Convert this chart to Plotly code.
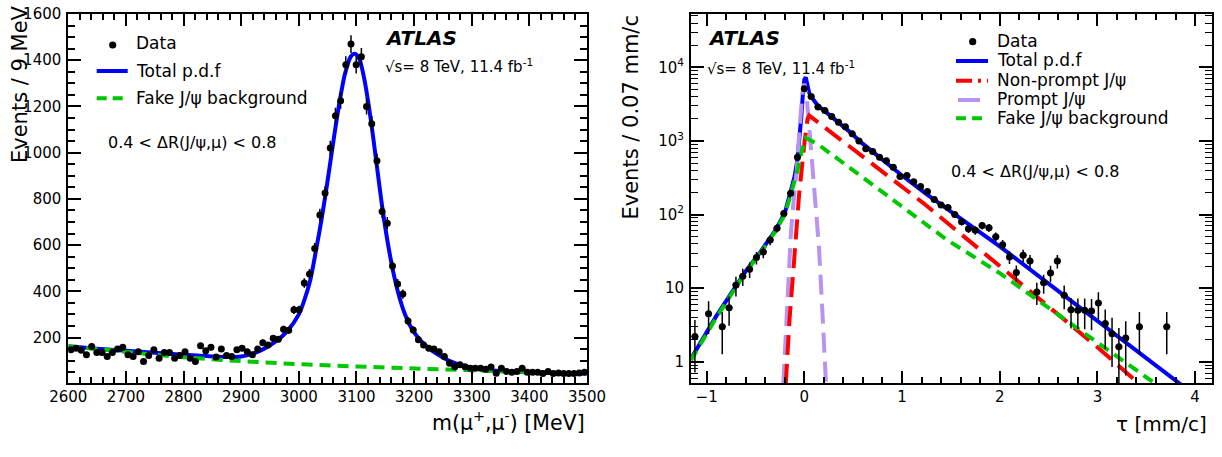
import numpy as np
import plotly.graph_objects as go

W, H = 1222, 457

# ---------------- Left panel: invariant mass ----------------
mass_bin_centers = np.arange(2604.5, 3500, 9.0)
mass_counts = [
    147, 154, 145, 125, 161, 135, 135, 118, 135, 150,
    158, 125, 118, 139, 96, 122, 147, 110, 135, 135,
    110, 122, 139, 110, 96, 164, 143, 158, 116, 150,
    122, 118, 147, 154, 139, 125, 150, 178, 168, 197,
    193, 236, 232, 320, 320, 436, 475, 585, 730, 825,
    1020, 1160, 1225, 1380, 1470, 1380, 1415, 1200, 1125, 965,
    745, 695, 510, 432, 388, 272, 233, 190, 168, 154,
    150, 139, 118, 89, 74, 82, 74, 67, 67, 67,
    63, 72, 45, 67, 53, 50, 53, 67, 50, 50,
    50, 44, 53, 44, 47, 44, 44, 44, 47, 50,
]
mass_total_x = [2600, 2650, 2700, 2750, 2800, 2850, 2880, 2900, 2920, 2940, 2960, 2980,
                3000, 3010, 3020, 3030, 3040, 3050, 3060, 3070, 3080, 3090, 3097, 3105,
                3115, 3125, 3135, 3145, 3155, 3165, 3175, 3185, 3195, 3210, 3225, 3240,
                3260, 3280, 3300, 3330, 3360, 3400, 3450, 3500]
mass_total_y = [162, 152, 143, 134, 125, 118, 116, 118, 130, 152, 183, 228,
                300, 365, 450, 580, 720, 880, 1050, 1210, 1340, 1415, 1428, 1405,
                1300, 1140, 950, 760, 600, 470, 370, 295, 242, 190, 155, 128,
                100, 82, 70, 60, 53, 49, 46, 44]
mass_bkg_x = [2600, 2700, 2800, 2900, 3000, 3100, 3200, 3300, 3400, 3500]
mass_bkg_y = [162, 138, 115, 98, 85, 75, 66, 58, 50, 44]

# ---------------- Right panel: pseudo-proper time ----------------
tau_centers = [-1.12, -0.98, -0.84, -0.77, -0.70, -0.63, -0.56, -0.49, -0.42, -0.35,
               -0.28, -0.21, -0.14, -0.07, 0.00, 0.07, 0.14, 0.21, 0.28, 0.35,
               0.42, 0.49, 0.56, 0.63, 0.70, 0.77, 0.84, 0.91, 0.98, 1.05,
               1.12, 1.19, 1.26, 1.33, 1.40, 1.47, 1.54, 1.61, 1.68, 1.75,
               1.82, 1.89, 1.96, 2.03, 2.10, 2.17, 2.24, 2.31, 2.38, 2.45,
               2.52, 2.59, 2.66, 2.73, 2.80, 2.87, 2.94, 3.01, 3.08, 3.15,
               3.22, 3.29, 3.43, 3.71]
tau_counts = [2.2, 4.5, 3.0, 5.4, 11, 14.5, 18, 26, 31, 45,
              65, 103, 195, 600, 5100, 4000, 2900, 2600, 2150, 1800,
              1560, 1250, 1000, 780, 720, 600, 540, 440, 330, 340,
              280, 240, 205, 160, 135, 125, 100, 80, 64, 61,
              71, 66, 50, 39, 26.5, 16.3, 28, 23.4, 8.9, 11.8,
              16.1, 23.4, 8.0, 5.1, 5.0, 5.0, 4.9, 6.3, 3.3, 2.4,
              1.6, 2.1, 3.0, 3.0]

tau_total_x = [-1.16, -0.9, -0.6, -0.45, -0.3, -0.2, -0.14, -0.1, -0.07, -0.05, -0.03, -0.015,
               0.0, 0.015, 0.03, 0.05, 0.07, 0.1, 0.14, 0.2, 0.3, 0.45, 0.6, 0.8, 1.0,
               1.25, 1.5, 1.75, 2.0, 2.5, 3.0, 3.5, 3.84, 4.0]
tau_total_y = [1.1, 4.2, 17, 31, 60, 105, 205, 330, 560, 1000, 2200, 4300,
               6800, 7300, 5800, 4500, 4000, 3450, 3000, 2600, 2050, 1380, 912, 550, 339,
               190, 110, 63, 37, 11.5, 3.55, 1.12, 0.51, 0.35]
tau_nonprompt_x = [-0.19, -0.15, -0.104, -0.053, 0.0, 0.033, 0.05, 1.224, 2.0, 3.0, 3.42, 3.6]
tau_nonprompt_y = [0.5, 4, 24, 190, 910, 2000, 2213, 141, 20, 1.58, 0.51, 0.35]
tau_prompt_x = [-0.215, -0.17, -0.138, -0.1, -0.077, -0.05, -0.02, 0.0, 0.02, 0.05,
                0.1, 0.15, 0.186, 0.222]
tau_prompt_y = [0.5, 8.5, 55, 215, 400, 1400, 4500, 6000, 4500, 1550,
                213, 36, 4.5, 0.5]
tau_fake_x = [-1.16, -0.9, -0.6, -0.45, -0.3, -0.2, -0.14, -0.07, -0.03, 0.015, 0.135,
              0.5, 1.0, 1.463, 2.0, 3.0, 3.57, 3.7]
tau_fake_y = [1.05, 4.0, 16.5, 30, 58, 100, 185, 400, 700, 1100, 910,
              400, 126, 45, 16, 1.8, 0.51, 0.4]

BLUE = "#0000ff"
GREEN = "#00c800"
RED = "#ff0000"
PURPLE = "#b893f0"
FONT = "DejaVu Sans"

fig = go.Figure()

# left panel traces
fig.add_trace(go.Scatter(x=mass_total_x, y=mass_total_y, mode="lines",
                         line=dict(color=BLUE, width=4, shape="spline", smoothing=0.8),
                         xaxis="x", yaxis="y", showlegend=False))
fig.add_trace(go.Scatter(x=mass_bkg_x, y=mass_bkg_y, mode="lines",
                         line=dict(color=GREEN, width=4, dash="11px,7px", shape="spline"),
                         xaxis="x", yaxis="y", showlegend=False))
fig.add_trace(go.Scatter(x=mass_bin_centers, y=mass_counts, mode="markers",
                         marker=dict(color="black", size=7),
                         error_y=dict(type="data", array=np.sqrt(mass_counts), color="black",
                                      thickness=1.5, width=0),
                         error_x=dict(type="constant", value=4.5, color="black",
                                      thickness=1.5, width=0),
                         xaxis="x", yaxis="y", showlegend=False))

# right panel traces
fig.add_trace(go.Scatter(x=tau_total_x, y=tau_total_y, mode="lines",
                         line=dict(color=BLUE, width=4),
                         xaxis="x2", yaxis="y2", showlegend=False))
fig.add_trace(go.Scatter(x=tau_prompt_x, y=tau_prompt_y, mode="lines",
                         line=dict(color=PURPLE, width=4, dash="20px,9px"),
                         xaxis="x2", yaxis="y2", showlegend=False))
fig.add_trace(go.Scatter(x=tau_nonprompt_x, y=tau_nonprompt_y, mode="lines",
                         line=dict(color=RED, width=4, dash="20px,9px"),
                         xaxis="x2", yaxis="y2", showlegend=False))
fig.add_trace(go.Scatter(x=tau_fake_x, y=tau_fake_y, mode="lines",
                         line=dict(color=GREEN, width=4, dash="11px,7px"),
                         xaxis="x2", yaxis="y2", showlegend=False))
fig.add_trace(go.Scatter(x=tau_centers, y=tau_counts, mode="markers",
                         marker=dict(color="black", size=7),
                         error_y=dict(type="data", array=np.sqrt(tau_counts), color="black",
                                      thickness=1.5, width=0),
                         error_x=dict(type="constant", value=0.035, color="black",
                                      thickness=1.5, width=0),
                         xaxis="x2", yaxis="y2", showlegend=False))

tickfont = dict(family=FONT, size=15, color="black")
axis_common = dict(showline=True, linecolor="black", linewidth=2, mirror="ticks",
                   ticks="inside", tickcolor="black", tickwidth=1.5, showgrid=False,
                   zeroline=False, tickfont=tickfont, automargin=False)

y_dom = [1 - 383.3 / H, 1 - 14 / H]
log_minor = [m * 10 ** e for e in range(-1, 5) for m in range(2, 10)]

fig.update_layout(
    width=W, height=H, margin=dict(l=0, r=0, t=0, b=0, autoexpand=False),
    paper_bgcolor="white", plot_bgcolor="white",
    xaxis=dict(domain=[68.3 / W, 587 / W], range=[2600, 3500], anchor="y",
               tickmode="linear", tick0=2600, dtick=100, ticklen=12, ticklabelstandoff=-1,
               minor=dict(ticks="inside", ticklen=6, dtick=20, tick0=2600,
                          tickcolor="black", tickwidth=1.5, showgrid=False),
               **axis_common),
    yaxis=dict(domain=y_dom, range=[2, 1600], anchor="x",
               tickmode="array", tickvals=[200, 400, 600, 800, 1000, 1200, 1400, 1600],
               ticklen=13, ticklabelstandoff=2,
               minor=dict(ticks="inside", ticklen=7, dtick=50, tick0=0,
                          tickcolor="black", tickwidth=1.5, showgrid=False),
               **axis_common),
    xaxis2=dict(domain=[691 / W, 1211.7 / W], range=[-1.16, 4.17], anchor="y2",
                tickmode="linear", tick0=0, dtick=1, ticklen=12, ticklabelstandoff=-1,
                minor=dict(ticks="inside", ticklen=6, dtick=0.2, tick0=0,
                           tickcolor="black", tickwidth=1.5, showgrid=False),
                **axis_common),
    yaxis2=dict(domain=y_dom, type="log", range=[np.log10(0.51), np.log10(53000)], anchor="x2",
                tickmode="array", tickvals=[1, 10, 100, 1000, 10000],
                ticktext=["1", "10", "10<sup>2</sup>", "10<sup>3</sup>", "10<sup>4</sup>"],
                ticklen=13, ticklabelstandoff=2,
                minor=dict(ticks="inside", ticklen=7, tickmode="array", tickvals=log_minor,
                           tickcolor="black", tickwidth=1.2, showgrid=False),
                **axis_common),
)


def px2paper(px, py):
    return px / W, 1 - py / H


annotations = []
shapes = []


def add_text(text, px, py, size, xanchor="left", yanchor="middle", angle=0):
    x, y = px2paper(px, py)
    annotations.append(dict(text=text, x=x, y=y, xref="paper", yref="paper",
                            xanchor=xanchor, yanchor=yanchor, showarrow=False,
                            textangle=angle, font=dict(family=FONT, size=size, color="black")))


def add_line(px0, px1, py, color, dash=None):
    x0, y0 = px2paper(px0, py)
    x1, _ = px2paper(px1, py)
    line = dict(color=color, width=4)
    if dash:
        line["dash"] = dash
    shapes.append(dict(type="line", xref="paper", yref="paper", x0=x0, x1=x1, y0=y0, y1=y0,
                       line=line))


def add_dot(px, py, r=3.6):
    x0, y0 = px2paper(px - r, py + r)
    x1, y1 = px2paper(px + r, py - r)
    shapes.append(dict(type="circle", xref="paper", yref="paper", x0=x0, x1=x1, y0=y0, y1=y1,
                       fillcolor="black", line=dict(color="black", width=0)))


# axis titles
add_text("m(μ<sup>+</sup>,μ<sup>-</sup>) [MeV]", 587, 421, 20.5, xanchor="right")
add_text("τ [mm/c]", 1209, 424, 20, xanchor="right")
add_text("Events / 9 MeV", 6, 3, 21, xanchor="left", yanchor="top", angle=-90)
add_text("Events / 0.07 mm/c", 616, 13, 21, xanchor="left", yanchor="top", angle=-90)

# left panel labels
add_text("<b><i>ATLAS</i></b>", 383, 38, 20)
add_text("√s= 8 TeV, 11.4 fb<sup>-1</sup>", 383, 66, 15)
add_text("0.4 < ΔR(J/ψ,μ) < 0.8", 106, 143, 16)
add_dot(112.7, 45)
add_text("Data", 134, 43, 17)
add_line(96.7, 127.7, 71, BLUE)
add_text("Total p.d.f", 134, 71, 17)
add_line(96.7, 127.7, 98.3, GREEN, "10px,6px")
add_text("Fake J/ψ background", 134, 98, 17)

# right panel labels
add_text("<b><i>ATLAS</i></b>", 706, 38, 20)
add_text("√s= 8 TeV, 11.4 fb<sup>-1</sup>", 705, 68, 15)
add_text("0.4 < ΔR(J/ψ,μ) < 0.8", 949, 171, 16)
add_dot(972.7, 41.7)
add_text("Data", 995, 41, 17)
add_line(956, 988, 61, BLUE)
add_text("Total p.d.f", 995, 60, 17)
add_line(956, 988, 80.7, RED, "16px,6px,3px,6px")
add_text("Non-prompt J/ψ", 995, 80, 17)
add_line(958, 980, 100, PURPLE)
add_text("Prompt J/ψ", 995, 99, 17)
add_line(956, 988, 118.3, GREEN, "10px,6px")
add_text("Fake J/ψ background", 995, 118, 17)

fig.update_layout(annotations=annotations, shapes=shapes)

fig.write_html("out.html")
